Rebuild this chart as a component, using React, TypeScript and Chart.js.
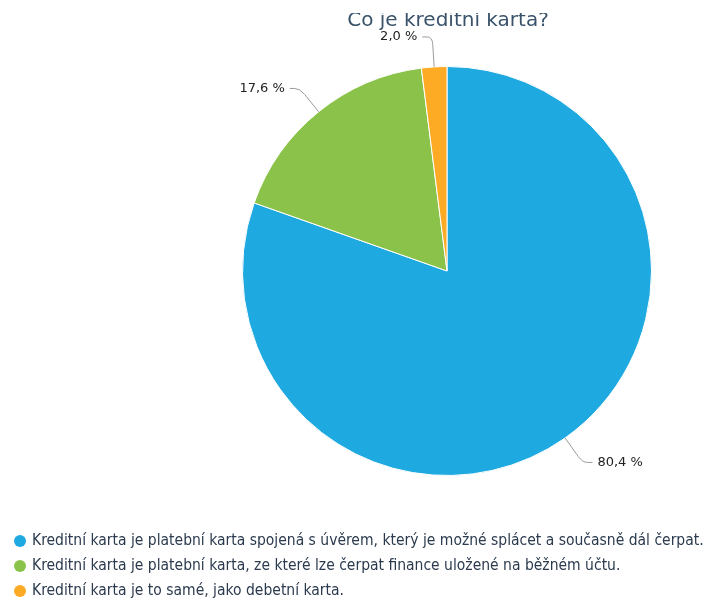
import React, { useEffect, useRef } from "react";
import { Chart, registerables } from "chart.js";

Chart.register(...registerables);

const titleText = "Co je kreditní karta?";
const categories = [
  "Kreditní karta je platební karta spojená s úvěrem, který je možné splácet a současně dál čerpat.",
  "Kreditní karta je platební karta, ze které lze čerpat finance uložené na běžném účtu.",
  "Kreditní karta je to samé, jako debetní karta.",
];
const values = [80.4, 17.6, 2.0];
const valueLabels = ["80,4 %", "17,6 %", "2,0 %"];
const colors = ["#1fa9e1", "#8bc34a", "#fdab25"];

const W = 704;
const H = 604;

const decorPlugin = {
  id: "decor",
  afterDraw(chart: any) {
    const ctx = chart.ctx as CanvasRenderingContext2D;
    ctx.save();
    // title (clipped at top as in reference)
    ctx.save();
    ctx.beginPath();
    ctx.rect(0, 13, W, 40);
    ctx.clip();
    ctx.font = "20px 'DejaVu Sans'";
    ctx.fillStyle = "#3a536b";
    ctx.textAlign = "center";
    ctx.textBaseline = "alphabetic";
    ctx.fillText(titleText, 448, 26);
    ctx.restore();

    // data labels with connectors
    const meta = chart.getDatasetMeta(0);
    meta.data.forEach((arc: any, i: number) => {
      const { x, y, startAngle, endAngle, outerRadius } = arc.getProps(
        ["x", "y", "startAngle", "endAngle", "outerRadius"],
        true
      );
      const mid = (startAngle + endAngle) / 2;
      const ex = x + Math.cos(mid) * outerRadius;
      const ey = y + Math.sin(mid) * outerRadius;
      const d = outerRadius + 30;
      const bx = x + Math.cos(mid) * d;
      const by = y + Math.sin(mid) * d;
      const right = Math.cos(mid) >= 0;
      const lx = bx + (right ? 10 : -10);
      ctx.strokeStyle = "#9a9a9a";
      ctx.lineWidth = 1;
      ctx.beginPath();
      ctx.moveTo(ex, ey);
      const px = ex + (bx - ex) * 0.75;
      const py = ey + (by - ey) * 0.75;
      ctx.lineTo(px, py);
      ctx.quadraticCurveTo(bx, by, bx + (right ? 5 : -5), by);
      ctx.lineTo(lx, by);
      ctx.stroke();
      ctx.font = "13px 'DejaVu Sans'";
      ctx.fillStyle = "#222";
      ctx.textBaseline = "middle";
      ctx.textAlign = right ? "left" : "right";
      ctx.fillText(valueLabels[i], lx + (right ? 5 : -5), by);
    });

    // legend
    ctx.font = "15.5px 'DejaVu Sans Condensed'";
    ctx.textAlign = "left";
    ctx.textBaseline = "middle";
    categories.forEach((c, i) => {
      const ly = 541 + i * 25;
      ctx.fillStyle = colors[i];
      ctx.beginPath();
      ctx.arc(20, ly, 6, 0, Math.PI * 2);
      ctx.fill();
      ctx.fillStyle = "#2b3a4e";
      ctx.fillText(c, 32, ly);
    });
    ctx.restore();
  },
};

export default function App() {
  const ref = useRef<HTMLCanvasElement>(null);
  useEffect(() => {
    document.body.style.margin = "0";
    const chart = new Chart(ref.current!, {
      type: "pie",
      data: {
        labels: categories,
        datasets: [
          {
            data: values,
            backgroundColor: colors,
            borderColor: "#ffffff",
            borderWidth: 1,
          },
        ],
      },
      options: {
        responsive: false,
        animation: false,
        layout: { padding: { left: 242, right: 52, top: 66, bottom: 128 } },
        plugins: {
          legend: { display: false },
          title: { display: false },
          tooltip: { enabled: false },
        },
      },
      plugins: [decorPlugin],
    });
    return () => chart.destroy();
  }, []);
  return (
    <div style={{ position: "absolute", left: 0, top: 0, width: W, height: H, background: "#fff" }}>
      <canvas ref={ref} width={W} height={H} style={{ width: W, height: H }} />
    </div>
  );
}
